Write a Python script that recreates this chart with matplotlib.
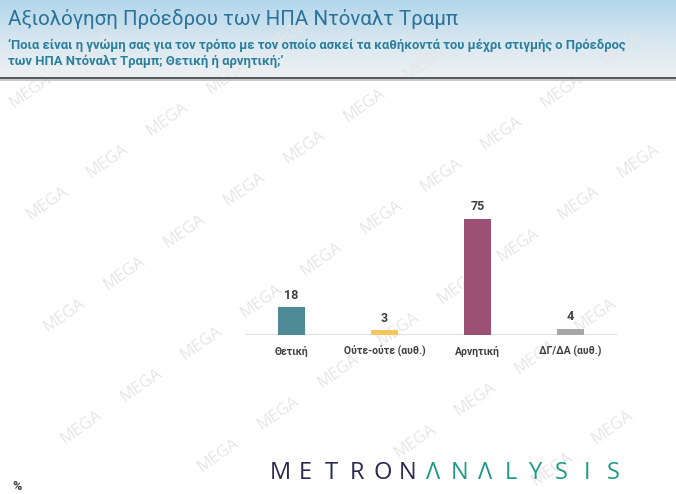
import numpy as np
import matplotlib
matplotlib.use("Agg")
import matplotlib.pyplot as plt
from matplotlib.colors import LinearSegmentedColormap
from matplotlib.patches import Rectangle

plt.rcParams['font.family'] = ['Roboto', 'Noto Sans', 'DejaVu Sans']

# ---- data ----
title = "Αξιολόγηση Πρόεδρου των ΗΠΑ Ντόναλτ Τραμπ"
subtitle1 = "‘Ποια είναι η γνώμη σας για τον τρόπο με τον οποίο ασκεί τα καθήκοντά του μέχρι στιγμής ο Πρόεδρος"
subtitle2 = "των ΗΠΑ Ντόναλτ Τραμπ; Θετική ή αρνητική;’"
categories = ["Θετική", "Ούτε-ούτε (αυθ.)", "Αρνητική", "ΔΓ/ΔΑ (αυθ.)"]
values = [18, 3, 75, 4]
colors = ["#4e8996", "#f7c75c", "#9c5073", "#a6a6a6"]

W, H = 676, 494
fig = plt.figure(figsize=(W / 100, H / 100), dpi=100)
fig.patch.set_facecolor("white")

def fx(px):
    return px / W

def fy(py):
    return 1 - py / H

# ---- header gradient ----
hax = fig.add_axes([0, fy(77), 1, 77 / H], zorder=-3)
grad = np.linspace(0, 1, 100).reshape(-1, 1)
cmap = LinearSegmentedColormap.from_list("hdr", ["#b3d6eb", "#d6e6ef", "#eef1f3"])
hax.imshow(grad, aspect="auto", cmap=cmap, extent=[0, 1, 0, 1], origin="upper")
hax.set_axis_off()

# separator line with shadow
fig.add_artist(Rectangle((0, fy(79)), 1, 2 / H, transform=fig.transFigure,
                         facecolor="#5a5a5a", edgecolor="none", zorder=2))
fig.add_artist(Rectangle((0, fy(81)), 1, 2 / H, transform=fig.transFigure,
                         facecolor="#c8c8c8", edgecolor="none", zorder=2))

# ---- watermarks ----
ox, oy = 47, 203
a = np.array([60, -42])
b = np.array([77, 70])
for i in range(-12, 14):
    for j in range(-6, 8):
        px, py = ox + i * a[0] + j * b[0], oy + i * a[1] + j * b[1]
        if 28 <= px <= W - 28 and 22 <= py <= H - 22:
            fig.text(fx(px), fy(py), "MEGA", rotation=35, fontsize=12,
                     color="#e6e6e6", ha="center", va="center",
                     family=["Open Sans", "DejaVu Sans"], zorder=-1)

# ---- titles ----
fig.text(fx(8), fy(19), title, fontsize=14.8, color="#2a729a",
         ha="left", va="center", zorder=5)
fig.text(fx(8), fy(45), subtitle1, fontsize=9.4, color="#2b7f9e",
         fontweight="bold", ha="left", va="center", zorder=5)
fig.text(fx(8), fy(61), subtitle2, fontsize=9.4, color="#2b7f9e",
         fontweight="bold", ha="left", va="center", zorder=5)

# ---- bar chart ----
ax = fig.add_axes([fx(245), fy(335), 372 / W, 145 / H], zorder=1)
ax.patch.set_alpha(0)
x = np.arange(len(categories))
ax.bar(x, values, width=0.28, color=colors, zorder=2)
ax.set_xlim(-0.5, len(categories) - 0.5)
ax.set_ylim(0, 93.7)
ax.axhline(0, color="#d9d9d9", lw=1.2, zorder=1)
for s in ax.spines.values():
    s.set_visible(False)
ax.set_yticks([])
ax.set_xticks(x)
ax.set_xticklabels(categories, fontsize=7.5, fontweight="bold", color="#404040")
ax.tick_params(axis="x", length=0, pad=8)
for xi, v in zip(x, values):
    ax.annotate(str(v), (xi, v), xytext=(0, 4), textcoords="offset points",
                ha="center", va="bottom", fontsize=9, fontweight="bold",
                color="#404040")

# ---- logo ----
letters = list("METRONΛNΛLYSIS")
lcolors = ["#2a2950"] * 6 + ["#1e9a85"] * 8
x0, step = 280, 25.6
for k, (ch, c) in enumerate(zip(letters, lcolors)):
    fig.text(fx(x0 + k * step), fy(473), ch, fontsize=17, color=c,
             ha="center", va="center", family=["Open Sans", "DejaVu Sans"],
             fontweight="normal", zorder=5)

fig.text(fx(17), fy(486), "%", fontsize=9, fontweight="bold", color="#404040",
         ha="center", va="center", zorder=5)

fig.savefig("out.png", dpi=100)
